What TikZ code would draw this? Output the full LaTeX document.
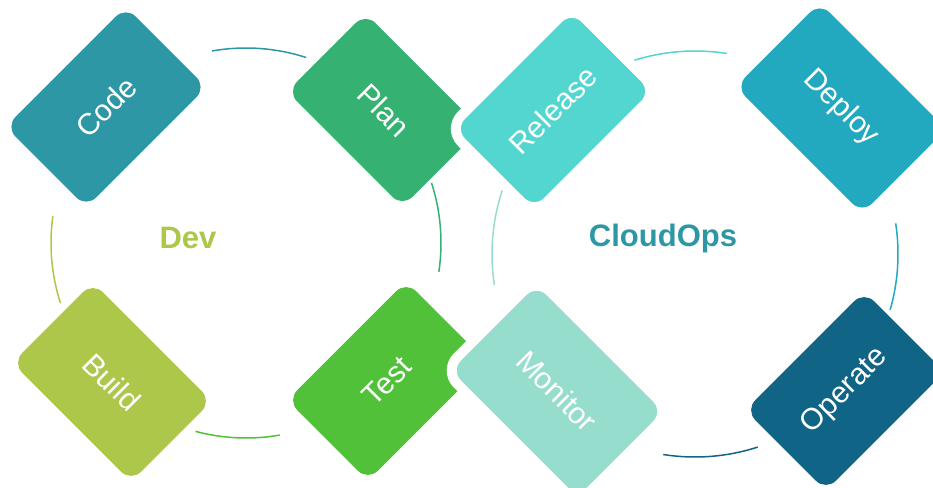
\documentclass[tikz,border=0pt]{standalone}
\usepackage{fontspec}
\setmainfont{Liberation Sans}
\usepackage{xcolor}
\definecolor{codecol}{HTML}{2E97A5}
\definecolor{plancol}{HTML}{35B271}
\definecolor{buildcol}{HTML}{ADC74A}
\definecolor{testcol}{HTML}{52C13A}
\definecolor{releasecol}{HTML}{53D6CF}
\definecolor{deploycol}{HTML}{22A9BF}
\definecolor{monitorcol}{HTML}{96DDCD}
\definecolor{operatecol}{HTML}{106587}

\begin{document}
\begin{tikzpicture}[x=1pt,y=1pt,
  tile/.style={rectangle,rounded corners=14pt,inner sep=0pt,text=white,
    font=\fontsize{30}{30}\selectfont},
  cuttile/.style={tile,rounded corners=19pt,draw=white,line width=10pt},
  ring/.style={line width=1.5pt},
  title/.style={font=\fontsize{31}{31}\selectfont\bfseries}]
  \useasboundingbox (0,0) rectangle (933,-487);
  \clip (0,0) rectangle (933,-487);

  \coordinate (dev) at (246,-243);
  \coordinate (ops) at (695,-254);

  \draw[ring,codecol] ([shift={(72:195pt)}]dev) arc[start angle=72,end angle=100,radius=195pt];
  \draw[ring,plancol] ([shift={(-8.5:195pt)}]dev) arc[start angle=-8.5,end angle=18,radius=195pt];
  \draw[ring,testcol] ([shift={(255:195pt)}]dev) arc[start angle=255,end angle=280,radius=195pt];
  \draw[ring,buildcol] ([shift={(172:195pt)}]dev) arc[start angle=172,end angle=198,radius=195pt];

  \draw[ring,releasecol] ([shift={(81:203pt)}]ops) arc[start angle=81,end angle=108,radius=203pt];
  \draw[ring,deploycol] ([shift={(-16:203pt)}]ops) arc[start angle=-16,end angle=8.7,radius=203pt];
  \draw[ring,operatecol] ([shift={(261:203pt)}]ops) arc[start angle=261,end angle=288,radius=203pt];
  \draw[ring,monitorcol] ([shift={(161.6:203pt)}]ops) arc[start angle=161.6,end angle=188.7,radius=203pt];

  \node[tile,fill=codecol,rotate=45,minimum width=170pt,minimum height=114pt] (code) at (106,-107) {Code};
  \node[tile,fill=buildcol,rotate=-45,minimum width=168pt,minimum height=114pt] (build) at (112,-382) {Build};
  \node[tile,fill=plancol,rotate=-45,minimum width=163pt,minimum height=111pt] (plan) at (384,-110) {Plan};
  \node[tile,fill=testcol,rotate=45,minimum width=168pt,minimum height=114pt] (test) at (387,-381) {Test};
  \node[cuttile,fill=releasecol,rotate=45,minimum width=175pt,minimum height=122pt] (release) at (553,-110) {Release};
  \node[cuttile,fill=monitorcol,rotate=-45,minimum width=189pt,minimum height=131pt] (monitor) at (557,-391) {Monitor};
  \node[tile,fill=deploycol,rotate=-45,minimum width=179pt,minimum height=119pt] (deploy) at (841,-108) {Deploy};
  \node[tile,fill=operatecol,rotate=45,minimum width=168pt,minimum height=114pt] (operate) at (845,-391) {Operate};

  \node[title,text=buildcol] (devtitle) at (188,-238) {Dev};
  \node[title,text=codecol] (opstitle) at (663,-238) {CloudOps};
\end{tikzpicture}
\end{document}
